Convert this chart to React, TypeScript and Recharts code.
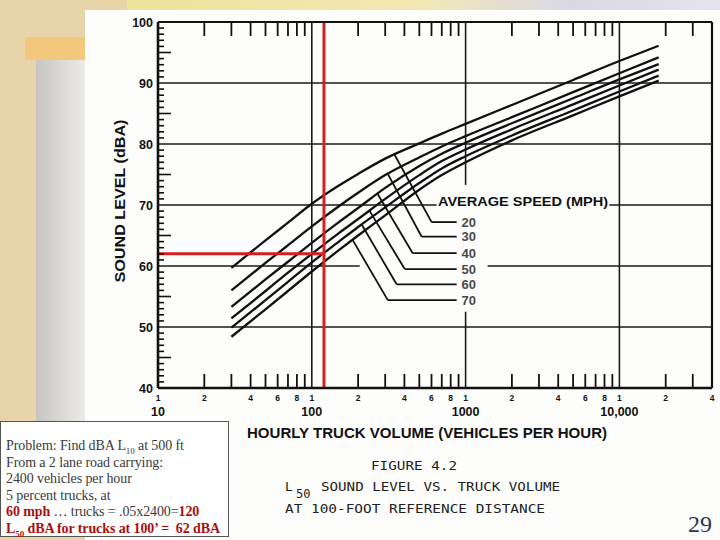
import React from 'react';
import { LineChart, Line, XAxis, YAxis, ReferenceLine, ReferenceDot } from 'recharts';

// Hourly truck volume (vehicles per hour) sample points along the curves
const volumes = [30, 50, 70, 100, 150, 200, 300, 500, 700, 1000, 2000, 5000, 10000, 18000];
// L50 sound level (dBA) per average speed (mph)
const speed20 = [59.7, 64.2, 67.1, 70.2, 73.2, 75.1, 77.6, 80.1, 81.7, 83.3, 86.4, 90.5, 93.6, 96.1];
const speed30 = [56.0, 60.5, 63.4, 66.5, 69.8, 72.0, 74.9, 77.8, 79.6, 81.3, 84.4, 88.5, 91.6, 94.2];
const speed40 = [53.3, 57.8, 60.7, 63.8, 67.2, 69.5, 72.8, 76.4, 78.4, 80.2, 83.4, 87.5, 90.6, 93.1];
const speed50 = [51.4, 55.9, 58.9, 62.0, 65.4, 67.7, 71.0, 74.9, 77.2, 79.1, 82.4, 86.5, 89.6, 92.2];
const speed60 = [49.9, 54.4, 57.4, 60.6, 64.0, 66.4, 69.6, 73.6, 76.0, 78.0, 81.4, 85.5, 88.6, 91.2];
const speed70 = [48.4, 52.9, 55.9, 59.1, 62.6, 65.0, 68.3, 72.5, 74.9, 77.0, 80.6, 84.7, 87.8, 90.4];

const speedKeys = ['s20', 's30', 's40', 's50', 's60', 's70'];
const speedLabels = ['20', '30', '40', '50', '60', '70'];
const seriesList = [speed20, speed30, speed40, speed50, speed60, speed70];

// leader lines from each curve to its label
const leaderStartVol = [346, 312, 268, 238, 211, 185];
const leaderStartDb = [78.2, 75.1, 71.8, 69.0, 66.8, 64.2];
const leaderBendVol = [601, 518, 453, 402, 356, 312];
const leaderDb = [67.2, 64.8, 62.1, 59.5, 57.0, 54.4];
const leaderEndVol = 875;
const labelVol = 940;

// axes
const xTicks = [10, 20, 30, 40, 50, 60, 70, 80, 90, 100, 200, 300, 400, 500, 600, 700, 800, 900,
  1000, 2000, 3000, 4000, 5000, 6000, 7000, 8000, 9000, 10000, 20000, 30000, 40000];
const decadeLabels = ['10', '100', '1000', '10,000'];
const minorLabels = [1, 2, 4, 6, 8];
const yTicks = Array.from({ length: 61 }, (_, i) => 40 + i);

// example reading (red construction lines)
const exampleVolume = 120;
const exampleLevel = 62;

const data = volumes.map((v, i) => {
  const row: any = { v };
  seriesList.forEach((s, k) => { row[speedKeys[k]] = s[i]; });
  return row;
});

const TM = 4;
const INK = '#111';
const SANS = '"Liberation Sans", Arial, sans-serif';

const mant = (v: number) => {
  const e = Math.floor(Math.log10(v) + 1e-9);
  return { e, m: Math.round(v / Math.pow(10, e)) };
};

const LeftTick = (p: any) => {
  const { x, y, payload } = p;
  const v = payload.value;
  const ax = x + TM;
  const len = v % 10 === 0 ? 0 : v % 5 === 0 ? 13 : 6;
  return (
    <g>
      {len > 0 && <line x1={ax} x2={ax + len} y1={y} y2={y} stroke={INK} strokeWidth={1.6} />}
      {v % 10 === 0 && (
        <text x={x - 1} y={y} dy={4.5} textAnchor="end" fontSize={12.5} fontWeight="bold" fontFamily={SANS} fill={INK}>{v}</text>
      )}
    </g>
  );
};

const RightTick = (p: any) => {
  const { x, y, payload } = p;
  const v = payload.value;
  const ax = x - TM;
  const len = v % 10 === 0 ? 0 : v % 5 === 0 ? 13 : 6;
  return len > 0 ? <line x1={ax} x2={ax - len} y1={y} y2={y} stroke={INK} strokeWidth={1.6} /> : <g />;
};

const BottomTick = (p: any) => {
  const { x, y, payload } = p;
  const v = payload.value;
  const { e, m } = mant(v);
  const ay = y - TM;
  return (
    <g>
      {m !== 1 && v < 40000 && <line x1={x} x2={x} y1={ay} y2={ay - 14} stroke={INK} strokeWidth={1.8} />}
      {minorLabels.includes(m) && (
        <text x={x} y={ay + 13} textAnchor="middle" fontSize={8.5} fontWeight="bold" fontFamily={SANS} fill={INK}>{m}</text>
      )}
      {m === 1 && (
        <text x={x} y={ay + 28} textAnchor="middle" fontSize={12.5} fontWeight="bold" fontFamily={SANS} fill={INK}>{decadeLabels[e - 1]}</text>
      )}
    </g>
  );
};

const TopTick = (p: any) => {
  const { x, y, payload } = p;
  const v = payload.value;
  const { m } = mant(v);
  const ay = y + TM;
  return m !== 1 && v < 40000 ? <line x1={x} x2={x} y1={ay} y2={ay + 14} stroke={INK} strokeWidth={1.8} /> : <g />;
};

const grid = { stroke: '#1a1a1a', strokeWidth: 1.6 };
const red = '#d42020';

export default function App() {
  return (
    <div style={{ position: 'absolute', left: 0, top: 0, width: 720, height: 540, overflow: 'hidden', background: '#e7d4a8' }}>
      <div style={{ position: 'absolute', left: 127, top: 0, width: 593, height: 10, background: 'linear-gradient(to right, #efe39a 0%, #f1e8b4 50%, #d9d9e6 75%, #e4e4ee 100%)' }} />
      <div style={{ position: 'absolute', left: 25, top: 37, width: 60, height: 23, background: '#f3c87c' }} />
      <div style={{ position: 'absolute', left: 36, top: 60, width: 49, height: 380, background: 'linear-gradient(to right, #c6c5c1, #ecebe8)' }} />
      <div style={{ position: 'absolute', left: 85, top: 10, width: 635, height: 530, background: '#fdfdfb' }} />

      <div style={{ position: 'absolute', left: 0, top: 0 }}>
        <LineChart width={720} height={540} data={data} margin={{ top: 2, right: 0, bottom: 122, left: 118 }}>
          <XAxis dataKey="v" type="number" scale="log" domain={[10, 40000]} allowDataOverflow ticks={xTicks} interval={0}
            height={30} tickSize={0} tickMargin={TM} tickLine={false} tick={<BottomTick />}
            axisLine={{ stroke: INK, strokeWidth: 2.6 }} />
          <XAxis xAxisId="top" orientation="top" dataKey="v" type="number" scale="log" domain={[10, 40000]} allowDataOverflow
            ticks={xTicks} interval={0} height={20} tickSize={0} tickMargin={TM} tickLine={false} tick={<TopTick />}
            axisLine={{ stroke: INK, strokeWidth: 2.2 }} />
          <YAxis type="number" domain={[40, 100]} ticks={yTicks} interval={0} width={40} tickSize={0} tickMargin={TM}
            tickLine={false} tick={<LeftTick />} axisLine={{ stroke: INK, strokeWidth: 2.6 }} />
          <YAxis yAxisId="right" orientation="right" type="number" domain={[40, 100]} ticks={yTicks} interval={0} width={8}
            tickSize={0} tickMargin={TM} tickLine={false} tick={<RightTick />} axisLine={{ stroke: INK, strokeWidth: 2.2 }} />

          {/* grid */}
          <ReferenceLine y={50} {...grid} />
          <ReferenceLine segment={[{ x: 10, y: 60 }, { x: 205, y: 60 }]} {...grid} />
          <ReferenceLine segment={[{ x: 1390, y: 60 }, { x: 40000, y: 60 }]} {...grid} />
          <ReferenceLine segment={[{ x: 10, y: 70 }, { x: 648, y: 70 }]} {...grid} />
          <ReferenceLine segment={[{ x: 8600, y: 70 }, { x: 40000, y: 70 }]} {...grid} />
          <ReferenceLine y={80} {...grid} />
          <ReferenceLine y={90} {...grid} />
          <ReferenceLine x={100} {...grid} />
          <ReferenceLine segment={[{ x: 1000, y: 40 }, { x: 1000, y: 52.5 }]} {...grid} />
          <ReferenceLine segment={[{ x: 1000, y: 73.3 }, { x: 1000, y: 100 }]} {...grid} />
          <ReferenceLine x={10000} {...grid} />

          {speedKeys.map((k) => (
            <Line key={k} dataKey={k} type="monotone" stroke={INK} strokeWidth={2.3} dot={false} isAnimationActive={false} />
          ))}

          {/* leaders */}
          {speedLabels.map((s, i) => (
            <ReferenceLine key={'d' + s} segment={[{ x: leaderStartVol[i], y: leaderStartDb[i] }, { x: leaderBendVol[i], y: leaderDb[i] }]}
              stroke={INK} strokeWidth={1.8} />
          ))}
          {speedLabels.map((s, i) => (
            <ReferenceLine key={'h' + s} segment={[{ x: leaderBendVol[i], y: leaderDb[i] }, { x: leaderEndVol, y: leaderDb[i] }]}
              stroke={INK} strokeWidth={1.8} />
          ))}
          {speedLabels.map((s, i) => (
            <ReferenceDot key={'l' + s} x={labelVol} y={leaderDb[i]} r={0}
              shape={(p: any) => (
                <text x={p.cx} y={p.cy} dy={4.5} fontSize={13} fontWeight="bold" fill="#4a4a4a"
                  fontFamily={'"Liberation Sans Narrow", "Liberation Sans", Arial, sans-serif'}>{s}</text>
              )} />
          ))}

          {/* red construction */}
          <ReferenceLine segment={[{ x: exampleVolume, y: 40 }, { x: exampleVolume, y: 100 }]} stroke={red} strokeWidth={3} />
          <ReferenceLine segment={[{ x: 10, y: exampleLevel }, { x: exampleVolume, y: exampleLevel }]} stroke={red} strokeWidth={3} />
        </LineChart>
      </div>

      <svg width={720} height={540} style={{ position: 'absolute', left: 0, top: 0, pointerEvents: 'none' }}>
        <text transform="translate(125,201) rotate(-90)" textAnchor="middle" fontSize={14} fontWeight="bold" fontFamily={SANS}
          fill={INK} textLength={163} lengthAdjust="spacingAndGlyphs">SOUND LEVEL (dBA)</text>
        <text x={247} y={438} fontSize={14} fontWeight="bold" fontFamily={SANS} fill={INK} textLength={360}
          lengthAdjust="spacingAndGlyphs">HOURLY TRUCK VOLUME (VEHICLES PER HOUR)</text>
        <text x={438} y={206} fontSize={13.5} fontWeight="bold" fontFamily={SANS} fill={INK} textLength={170}
          lengthAdjust="spacingAndGlyphs">AVERAGE SPEED (MPH)</text>
        <g fontFamily={'"DejaVu Sans Mono", monospace'} fill="#222" fontSize={13}>
          <text x={371} y={470} textLength={86} lengthAdjust="spacingAndGlyphs">FIGURE 4.2</text>
          <text x={285} y={491}>L</text>
          <text x={296} y={498} fontSize={12}>50</text>
          <text x={321} y={491} textLength={239} lengthAdjust="spacingAndGlyphs">SOUND LEVEL VS. TRUCK VOLUME</text>
          <text x={285} y={513} textLength={260} lengthAdjust="spacingAndGlyphs">AT 100-FOOT REFERENCE DISTANCE</text>
        </g>
        <text x={712} y={532} textAnchor="end" fontSize={24} fontFamily={'"Liberation Serif", "Times New Roman", serif'} fill="#2b3552">29</text>
      </svg>

      <div style={{ position: 'absolute', left: 0, top: 421, width: 229, height: 116, border: '1px solid #555', background: '#fff',
        boxSizing: 'border-box', padding: '16px 0 0 5px', fontFamily: '"Liberation Serif", "Times New Roman", serif',
        fontSize: 14, lineHeight: '16.6px', color: '#3a3a3a', whiteSpace: 'nowrap', letterSpacing: '-0.1px' }}>
        <div>Problem: Find dBA L<sub style={{ fontSize: 9, lineHeight: 0 }}>10</sub> at 500 ft</div>
        <div>From a 2 lane road carrying:</div>
        <div>2400 vehicles per hour</div>
        <div>5 percent trucks, at</div>
        <div><b style={{ color: '#a80f0f' }}>60 mph</b> … trucks = .05x2400=<b style={{ color: '#a80f0f' }}>120</b></div>
        <div style={{ color: '#a80f0f', fontWeight: 'bold' }}>L<sub style={{ fontSize: 9, lineHeight: 0 }}>50</sub> dBA for trucks at 100’ =&nbsp; 62 dBA</div>
      </div>
    </div>
  );
}
